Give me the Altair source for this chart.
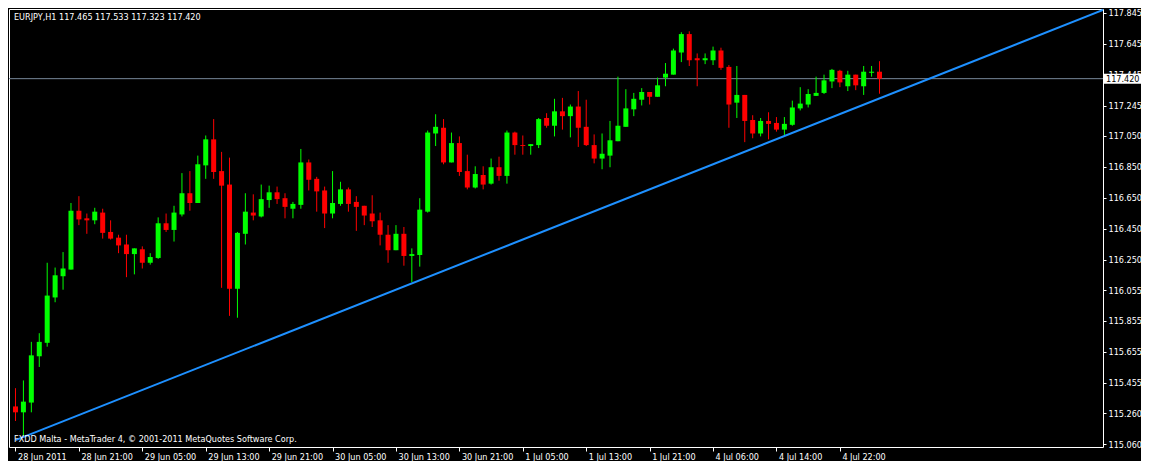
import altair as alt
import pandas as pd

# ---------------- data ----------------
title_text = "EURJPY,H1  117.465 117.533 117.323 117.420"
copyright_text = "FXDD Malta - MetaTrader 4, \u00a9 2001-2011 MetaQuotes Software Corp."

time_labels = ["28 Jun 2011", "28 Jun 21:00", "29 Jun 05:00", "29 Jun 13:00", "29 Jun 21:00",
               "30 Jun 05:00", "30 Jun 13:00", "30 Jun 21:00", "1 Jul 05:00", "1 Jul 13:00",
               "1 Jul 21:00", "4 Jul 06:00", "4 Jul 14:00", "4 Jul 22:00"]
time_ticks = [0, 8, 16, 24, 32, 40, 48, 56, 64, 72, 80, 88, 96, 104]

price_ticks = [115.060, 115.260, 115.455, 115.655, 115.855, 116.055, 116.250, 116.450,
               116.650, 116.850, 117.050, 117.245, 117.445, 117.645, 117.845]

opens = [115.303, 115.265, 115.328, 115.627, 115.714, 116.007, 116.144, 116.187, 116.567, 116.518,
         116.505, 116.555, 116.430, 116.393, 116.349, 116.287, 116.318, 116.231, 116.262, 116.486,
         116.443, 116.543, 116.680, 116.617, 116.860, 117.028, 116.823, 116.736, 116.063, 116.418,
         116.555, 116.530, 116.636, 116.686, 116.648, 116.580, 116.605, 116.879, 116.773, 116.698,
         116.549, 116.611, 116.705, 116.624, 116.599, 116.549, 116.505, 116.412, 116.312, 116.418,
         116.275, 116.281, 116.561, 117.066, 117.103, 116.879, 117.004, 116.823, 116.717, 116.798,
         116.742, 116.848, 116.792, 117.072, 116.991, 116.985, 116.991, 117.166, 117.116, 117.209,
         117.178, 117.240, 117.109, 116.991, 116.904, 116.923, 117.016, 117.109, 117.222, 117.284,
         117.334, 117.303, 117.427, 117.446, 117.589, 117.708, 117.552, 117.539, 117.539, 117.602,
         117.496, 117.265, 117.315, 117.153, 117.066, 117.147, 117.134, 117.091, 117.122, 117.228,
         117.253, 117.309, 117.328, 117.402, 117.471, 117.371, 117.446, 117.371, 117.458, 117.465]

highs = [115.421, 115.471, 115.720, 115.776, 116.231, 116.200, 116.300, 116.617, 116.661, 116.549,
         116.586, 116.580, 116.505, 116.412, 116.412, 116.324, 116.337, 116.293, 116.524, 116.549,
         116.599, 116.810, 116.823, 116.923, 117.053, 117.159, 116.947, 116.910, 116.430, 116.680,
         116.673, 116.736, 116.729, 116.723, 116.680, 116.624, 116.966, 116.898, 116.786, 116.723,
         116.823, 116.754, 116.717, 116.661, 116.599, 116.667, 116.555, 116.474, 116.474, 116.462,
         116.324, 116.648, 117.085, 117.190, 117.159, 117.072, 117.047, 116.929, 116.854, 116.854,
         116.904, 116.916, 117.085, 117.078, 117.053, 116.997, 117.166, 117.197, 117.290, 117.296,
         117.253, 117.340, 117.284, 117.060, 117.066, 117.147, 117.433, 117.352, 117.328, 117.359,
         117.334, 117.427, 117.521, 117.614, 117.720, 117.726, 117.583, 117.583, 117.627, 117.620,
         117.508, 117.502, 117.315, 117.184, 117.166, 117.203, 117.172, 117.172, 117.278, 117.365,
         117.352, 117.433, 117.446, 117.483, 117.477, 117.471, 117.446, 117.502, 117.502, 117.533]

lows = [115.209, 115.110, 115.265, 115.558, 115.689, 115.976, 116.057, 116.187, 116.474, 116.418,
        116.480, 116.387, 116.381, 116.293, 116.138, 116.156, 116.194, 116.219, 116.256, 116.430,
        116.368, 116.530, 116.567, 116.617, 116.773, 116.773, 116.069, 115.888, 115.876, 116.349,
        116.505, 116.524, 116.586, 116.611, 116.518, 116.518, 116.580, 116.698, 116.561, 116.455,
        116.518, 116.599, 116.561, 116.437, 116.474, 116.462, 116.343, 116.231, 116.312, 116.212,
        116.106, 116.206, 116.555, 116.985, 116.867, 116.879, 116.792, 116.705, 116.711, 116.705,
        116.736, 116.761, 116.742, 116.929, 116.929, 116.929, 116.972, 117.103, 117.047, 117.091,
        117.041, 116.979, 116.985, 116.873, 116.835, 116.848, 117.016, 117.109, 117.178, 117.247,
        117.253, 117.303, 117.371, 117.446, 117.527, 117.502, 117.371, 117.514, 117.508, 117.477,
        117.103, 117.166, 117.010, 117.035, 117.047, 117.028, 117.078, 117.053, 117.116, 117.215,
        117.234, 117.309, 117.321, 117.359, 117.365, 117.340, 117.346, 117.315, 117.433, 117.323]

closes = [115.265, 115.334, 115.633, 115.720, 116.019, 116.150, 116.194, 116.567, 116.511, 116.505,
          116.561, 116.424, 116.387, 116.343, 116.287, 116.324, 116.231, 116.268, 116.486, 116.443,
          116.555, 116.680, 116.617, 116.867, 117.028, 116.817, 116.729, 116.063, 116.424, 116.561,
          116.536, 116.642, 116.686, 116.642, 116.592, 116.611, 116.879, 116.767, 116.692, 116.549,
          116.617, 116.705, 116.611, 116.592, 116.536, 116.499, 116.412, 116.312, 116.418, 116.275,
          116.287, 116.574, 117.072, 117.109, 116.879, 117.004, 116.817, 116.717, 116.804, 116.736,
          116.848, 116.792, 117.072, 116.991, 116.985, 116.997, 117.159, 117.116, 117.209, 117.178,
          117.240, 117.103, 116.991, 116.904, 116.935, 117.022, 117.116, 117.228, 117.290, 117.334,
          117.303, 117.377, 117.452, 117.602, 117.708, 117.539, 117.539, 117.552, 117.602, 117.490,
          117.253, 117.315, 117.147, 117.066, 117.147, 117.128, 117.091, 117.128, 117.234, 117.259,
          117.321, 117.328, 117.409, 117.477, 117.396, 117.446, 117.377, 117.465, 117.465, 117.420]

# trend line anchor points (bar index, price)
trend_bar = [0.0, 137.25]
trend_price = [115.085, 117.865]

last_price = 117.420

# ---------------- layout / style ----------------
W, H = 1094, 438
FONT = "'DejaVu Sans Condensed', 'Liberation Sans', sans-serif"
FS = 9

df = pd.DataFrame({
    "i": list(range(len(opens))),
    "open": opens, "high": highs, "low": lows, "close": closes,
})
df["dir"] = ["up" if c >= o else "down" for o, c in zip(opens, closes)]

trend_df = pd.DataFrame({"i": trend_bar, "p": trend_price})
price_df = pd.DataFrame({"p": [last_price], "label": [f"{last_price:.3f}"]})
title_df = pd.DataFrame({"t": [title_text]})
copy_df = pd.DataFrame({"t": [copyright_text]})

xs = alt.Scale(domain=[-0.1875, 136.5625], nice=False, zero=False)
ys = alt.Scale(domain=[115.041, 117.870], nice=False, zero=False)

label_expr = "[" + ",".join("'" + t + "'" for t in time_labels) + "][round(datum.value / 8)]"

x_axis = alt.Axis(values=time_ticks, labelExpr=label_expr, orient="bottom", grid=False,
                  domain=False, ticks=True, tickColor="white", tickSize=4, labelColor="white",
                  labelFont=FONT, labelFontSize=FS, labelAlign="left", labelOffset=2,
                  labelPadding=1, title=None, labelOverlap=False, labelFlush=False,
                  labelBound=False)
y_axis = alt.Axis(values=price_ticks, format=".3f", orient="right", grid=False, domain=False,
                  ticks=True, tickColor="white", tickSize=3, labelColor="white",
                  labelFont=FONT, labelFontSize=FS, labelPadding=2, title=None,
                  labelOverlap=False, labelFlush=False, labelBound=False)

color = alt.Color("dir:N", scale=alt.Scale(domain=["up", "down"], range=["#00FF00", "#FF0000"]),
                  legend=None)

hline = alt.Chart(price_df).mark_rule(color="#778899", strokeWidth=1).encode(
    y=alt.Y("p:Q", scale=ys, axis=y_axis)
)

wicks = alt.Chart(df).mark_rule(strokeWidth=1, opacity=1).encode(
    x=alt.X("i:Q", scale=xs, axis=x_axis),
    y=alt.Y("low:Q", scale=ys, axis=y_axis),
    y2="high:Q",
    color=color,
)

bodies = alt.Chart(df).mark_bar(size=5, opacity=1).encode(
    x=alt.X("i:Q", scale=xs, axis=x_axis),
    y=alt.Y("open:Q", scale=ys, axis=y_axis),
    y2="close:Q",
    color=color,
)

trend = alt.Chart(trend_df).mark_line(color="#1E90FF", strokeWidth=2, clip=True).encode(
    x=alt.X("i:Q", scale=xs, axis=x_axis),
    y=alt.Y("p:Q", scale=ys, axis=y_axis),
)

title_mark = alt.Chart(title_df).mark_text(
    align="left", baseline="middle", color="white", font=FONT, fontSize=FS
).encode(x=alt.value(5), y=alt.value(8), text="t:N")

copy_mark = alt.Chart(copy_df).mark_text(
    align="left", baseline="middle", color="white", font=FONT, fontSize=FS
).encode(x=alt.value(5), y=alt.value(H - 8), text="t:N")

box = alt.Chart(price_df).mark_tick(
    orient="horizontal", size=37, thickness=10, color="white", opacity=1
).encode(y=alt.Y("p:Q", scale=ys, axis=y_axis), x=alt.value(W + 19.5))

box_text = alt.Chart(price_df).mark_text(
    align="left", baseline="middle", color="black", font=FONT, fontSize=FS
).encode(y=alt.Y("p:Q", scale=ys, axis=y_axis), x=alt.value(W + 3), text="label:N")

chart = alt.layer(
    hline, wicks, bodies, trend, title_mark, copy_mark, box, box_text
).properties(
    width=W, height=H,
    autosize=alt.AutoSizeParams(type="none"),
    padding={"left": 1, "top": 1, "right": 38, "bottom": 14},
    background="black",
).configure_view(
    stroke="white", strokeWidth=1, fill="black"
)

chart.save("out.html", embed_options={"renderer": "svg", "actions": False})
